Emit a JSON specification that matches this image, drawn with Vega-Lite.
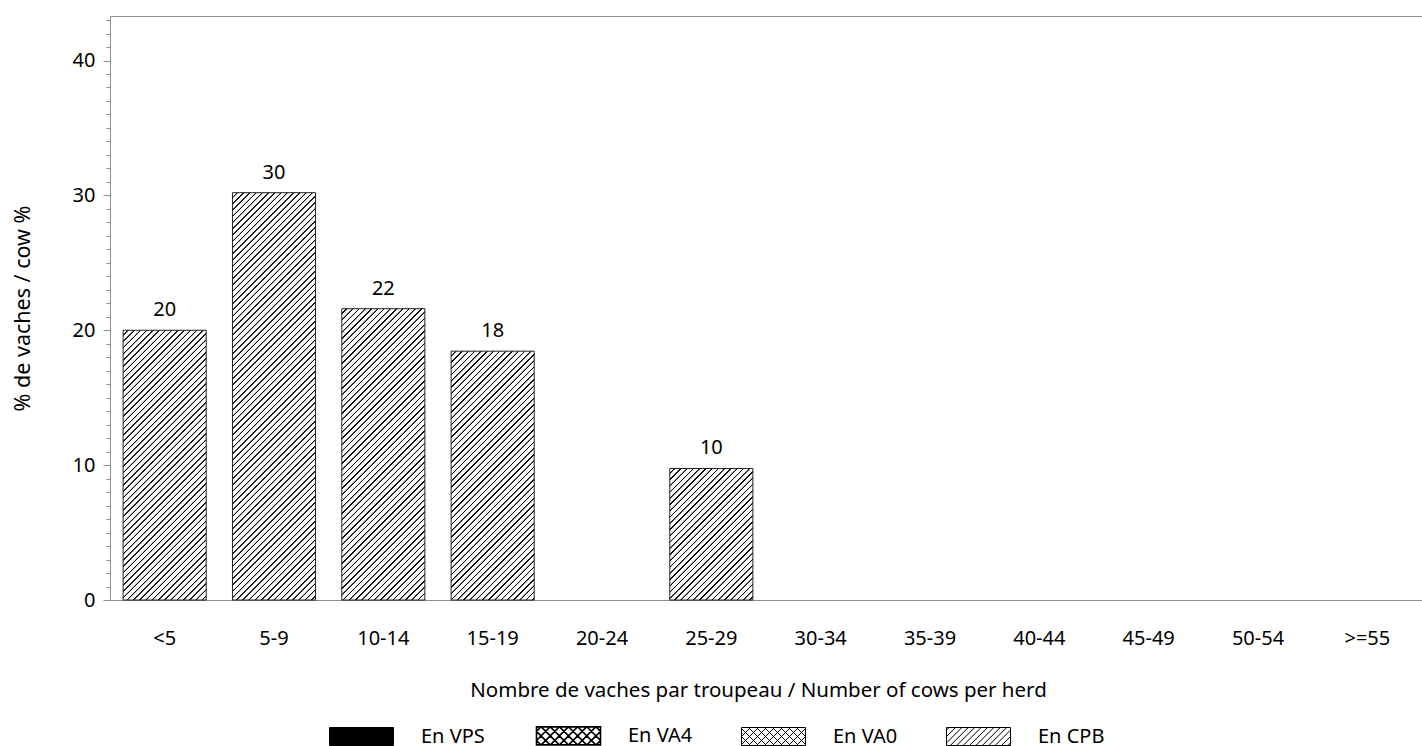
{
  "$schema": "https://vega.github.io/schema/vega-lite/v6.json",
  "description": "Pourcentage de vaches par taille de troupeau",
  "width": 1312,
  "height": 584,
  "autosize": {"type": "none"},
  "padding": {"left": 110, "top": 16, "right": 0, "bottom": 146},
  "background": "white",
  "params": [
    {
      "name": "hatch",
      "value": [
        {"offset":0.008,"color":"#fff"},{"offset":0.009,"color":"#000"},{"offset":0.011,"color":"#000"},{"offset":0.012,"color":"#fff"},
        {"offset":0.0205,"color":"#fff"},{"offset":0.0215,"color":"#000"},{"offset":0.0235,"color":"#000"},{"offset":0.0245,"color":"#fff"},
        {"offset":0.033,"color":"#fff"},{"offset":0.034,"color":"#000"},{"offset":0.036,"color":"#000"},{"offset":0.037,"color":"#fff"},
        {"offset":0.0455,"color":"#fff"},{"offset":0.0465,"color":"#000"},{"offset":0.0485,"color":"#000"},{"offset":0.0495,"color":"#fff"},
        {"offset":0.058,"color":"#fff"},{"offset":0.059,"color":"#000"},{"offset":0.061,"color":"#000"},{"offset":0.062,"color":"#fff"},
        {"offset":0.0705,"color":"#fff"},{"offset":0.0715,"color":"#000"},{"offset":0.0735,"color":"#000"},{"offset":0.0745,"color":"#fff"},
        {"offset":0.083,"color":"#fff"},{"offset":0.084,"color":"#000"},{"offset":0.086,"color":"#000"},{"offset":0.087,"color":"#fff"},
        {"offset":0.0955,"color":"#fff"},{"offset":0.0965,"color":"#000"},{"offset":0.0985,"color":"#000"},{"offset":0.0995,"color":"#fff"},
        {"offset":0.108,"color":"#fff"},{"offset":0.109,"color":"#000"},{"offset":0.111,"color":"#000"},{"offset":0.112,"color":"#fff"},
        {"offset":0.1205,"color":"#fff"},{"offset":0.1215,"color":"#000"},{"offset":0.1235,"color":"#000"},{"offset":0.1245,"color":"#fff"},
        {"offset":0.133,"color":"#fff"},{"offset":0.134,"color":"#000"},{"offset":0.136,"color":"#000"},{"offset":0.137,"color":"#fff"},
        {"offset":0.1455,"color":"#fff"},{"offset":0.1465,"color":"#000"},{"offset":0.1485,"color":"#000"},{"offset":0.1495,"color":"#fff"},
        {"offset":0.158,"color":"#fff"},{"offset":0.159,"color":"#000"},{"offset":0.161,"color":"#000"},{"offset":0.162,"color":"#fff"},
        {"offset":0.1705,"color":"#fff"},{"offset":0.1715,"color":"#000"},{"offset":0.1735,"color":"#000"},{"offset":0.1745,"color":"#fff"},
        {"offset":0.183,"color":"#fff"},{"offset":0.184,"color":"#000"},{"offset":0.186,"color":"#000"},{"offset":0.187,"color":"#fff"},
        {"offset":0.1955,"color":"#fff"},{"offset":0.1965,"color":"#000"},{"offset":0.1985,"color":"#000"},{"offset":0.1995,"color":"#fff"},
        {"offset":0.208,"color":"#fff"},{"offset":0.209,"color":"#000"},{"offset":0.211,"color":"#000"},{"offset":0.212,"color":"#fff"},
        {"offset":0.2205,"color":"#fff"},{"offset":0.2215,"color":"#000"},{"offset":0.2235,"color":"#000"},{"offset":0.2245,"color":"#fff"},
        {"offset":0.233,"color":"#fff"},{"offset":0.234,"color":"#000"},{"offset":0.236,"color":"#000"},{"offset":0.237,"color":"#fff"},
        {"offset":0.2455,"color":"#fff"},{"offset":0.2465,"color":"#000"},{"offset":0.2485,"color":"#000"},{"offset":0.2495,"color":"#fff"},
        {"offset":0.258,"color":"#fff"},{"offset":0.259,"color":"#000"},{"offset":0.261,"color":"#000"},{"offset":0.262,"color":"#fff"},
        {"offset":0.2705,"color":"#fff"},{"offset":0.2715,"color":"#000"},{"offset":0.2735,"color":"#000"},{"offset":0.2745,"color":"#fff"},
        {"offset":0.283,"color":"#fff"},{"offset":0.284,"color":"#000"},{"offset":0.286,"color":"#000"},{"offset":0.287,"color":"#fff"},
        {"offset":0.2955,"color":"#fff"},{"offset":0.2965,"color":"#000"},{"offset":0.2985,"color":"#000"},{"offset":0.2995,"color":"#fff"},
        {"offset":0.308,"color":"#fff"},{"offset":0.309,"color":"#000"},{"offset":0.311,"color":"#000"},{"offset":0.312,"color":"#fff"},
        {"offset":0.3205,"color":"#fff"},{"offset":0.3215,"color":"#000"},{"offset":0.3235,"color":"#000"},{"offset":0.3245,"color":"#fff"},
        {"offset":0.333,"color":"#fff"},{"offset":0.334,"color":"#000"},{"offset":0.336,"color":"#000"},{"offset":0.337,"color":"#fff"},
        {"offset":0.3455,"color":"#fff"},{"offset":0.3465,"color":"#000"},{"offset":0.3485,"color":"#000"},{"offset":0.3495,"color":"#fff"},
        {"offset":0.358,"color":"#fff"},{"offset":0.359,"color":"#000"},{"offset":0.361,"color":"#000"},{"offset":0.362,"color":"#fff"},
        {"offset":0.3705,"color":"#fff"},{"offset":0.3715,"color":"#000"},{"offset":0.3735,"color":"#000"},{"offset":0.3745,"color":"#fff"},
        {"offset":0.383,"color":"#fff"},{"offset":0.384,"color":"#000"},{"offset":0.386,"color":"#000"},{"offset":0.387,"color":"#fff"},
        {"offset":0.3955,"color":"#fff"},{"offset":0.3965,"color":"#000"},{"offset":0.3985,"color":"#000"},{"offset":0.3995,"color":"#fff"},
        {"offset":0.408,"color":"#fff"},{"offset":0.409,"color":"#000"},{"offset":0.411,"color":"#000"},{"offset":0.412,"color":"#fff"},
        {"offset":0.4205,"color":"#fff"},{"offset":0.4215,"color":"#000"},{"offset":0.4235,"color":"#000"},{"offset":0.4245,"color":"#fff"},
        {"offset":0.433,"color":"#fff"},{"offset":0.434,"color":"#000"},{"offset":0.436,"color":"#000"},{"offset":0.437,"color":"#fff"},
        {"offset":0.4455,"color":"#fff"},{"offset":0.4465,"color":"#000"},{"offset":0.4485,"color":"#000"},{"offset":0.4495,"color":"#fff"},
        {"offset":0.458,"color":"#fff"},{"offset":0.459,"color":"#000"},{"offset":0.461,"color":"#000"},{"offset":0.462,"color":"#fff"},
        {"offset":0.4705,"color":"#fff"},{"offset":0.4715,"color":"#000"},{"offset":0.4735,"color":"#000"},{"offset":0.4745,"color":"#fff"},
        {"offset":0.483,"color":"#fff"},{"offset":0.484,"color":"#000"},{"offset":0.486,"color":"#000"},{"offset":0.487,"color":"#fff"},
        {"offset":0.4955,"color":"#fff"},{"offset":0.4965,"color":"#000"},{"offset":0.4985,"color":"#000"},{"offset":0.4995,"color":"#fff"},
        {"offset":0.508,"color":"#fff"},{"offset":0.509,"color":"#000"},{"offset":0.511,"color":"#000"},{"offset":0.512,"color":"#fff"},
        {"offset":0.5205,"color":"#fff"},{"offset":0.5215,"color":"#000"},{"offset":0.5235,"color":"#000"},{"offset":0.5245,"color":"#fff"},
        {"offset":0.533,"color":"#fff"},{"offset":0.534,"color":"#000"},{"offset":0.536,"color":"#000"},{"offset":0.537,"color":"#fff"},
        {"offset":0.5455,"color":"#fff"},{"offset":0.5465,"color":"#000"},{"offset":0.5485,"color":"#000"},{"offset":0.5495,"color":"#fff"},
        {"offset":0.558,"color":"#fff"},{"offset":0.559,"color":"#000"},{"offset":0.561,"color":"#000"},{"offset":0.562,"color":"#fff"},
        {"offset":0.5705,"color":"#fff"},{"offset":0.5715,"color":"#000"},{"offset":0.5735,"color":"#000"},{"offset":0.5745,"color":"#fff"},
        {"offset":0.583,"color":"#fff"},{"offset":0.584,"color":"#000"},{"offset":0.586,"color":"#000"},{"offset":0.587,"color":"#fff"},
        {"offset":0.5955,"color":"#fff"},{"offset":0.5965,"color":"#000"},{"offset":0.5985,"color":"#000"},{"offset":0.5995,"color":"#fff"},
        {"offset":0.608,"color":"#fff"},{"offset":0.609,"color":"#000"},{"offset":0.611,"color":"#000"},{"offset":0.612,"color":"#fff"},
        {"offset":0.6205,"color":"#fff"},{"offset":0.6215,"color":"#000"},{"offset":0.6235,"color":"#000"},{"offset":0.6245,"color":"#fff"},
        {"offset":0.633,"color":"#fff"},{"offset":0.634,"color":"#000"},{"offset":0.636,"color":"#000"},{"offset":0.637,"color":"#fff"},
        {"offset":0.6455,"color":"#fff"},{"offset":0.6465,"color":"#000"},{"offset":0.6485,"color":"#000"},{"offset":0.6495,"color":"#fff"},
        {"offset":0.658,"color":"#fff"},{"offset":0.659,"color":"#000"},{"offset":0.661,"color":"#000"},{"offset":0.662,"color":"#fff"},
        {"offset":0.6705,"color":"#fff"},{"offset":0.6715,"color":"#000"},{"offset":0.6735,"color":"#000"},{"offset":0.6745,"color":"#fff"},
        {"offset":0.683,"color":"#fff"},{"offset":0.684,"color":"#000"},{"offset":0.686,"color":"#000"},{"offset":0.687,"color":"#fff"},
        {"offset":0.6955,"color":"#fff"},{"offset":0.6965,"color":"#000"},{"offset":0.6985,"color":"#000"},{"offset":0.6995,"color":"#fff"},
        {"offset":0.708,"color":"#fff"},{"offset":0.709,"color":"#000"},{"offset":0.711,"color":"#000"},{"offset":0.712,"color":"#fff"},
        {"offset":0.7205,"color":"#fff"},{"offset":0.7215,"color":"#000"},{"offset":0.7235,"color":"#000"},{"offset":0.7245,"color":"#fff"},
        {"offset":0.733,"color":"#fff"},{"offset":0.734,"color":"#000"},{"offset":0.736,"color":"#000"},{"offset":0.737,"color":"#fff"},
        {"offset":0.7455,"color":"#fff"},{"offset":0.7465,"color":"#000"},{"offset":0.7485,"color":"#000"},{"offset":0.7495,"color":"#fff"},
        {"offset":0.758,"color":"#fff"},{"offset":0.759,"color":"#000"},{"offset":0.761,"color":"#000"},{"offset":0.762,"color":"#fff"},
        {"offset":0.7705,"color":"#fff"},{"offset":0.7715,"color":"#000"},{"offset":0.7735,"color":"#000"},{"offset":0.7745,"color":"#fff"},
        {"offset":0.783,"color":"#fff"},{"offset":0.784,"color":"#000"},{"offset":0.786,"color":"#000"},{"offset":0.787,"color":"#fff"},
        {"offset":0.7955,"color":"#fff"},{"offset":0.7965,"color":"#000"},{"offset":0.7985,"color":"#000"},{"offset":0.7995,"color":"#fff"},
        {"offset":0.808,"color":"#fff"},{"offset":0.809,"color":"#000"},{"offset":0.811,"color":"#000"},{"offset":0.812,"color":"#fff"},
        {"offset":0.8205,"color":"#fff"},{"offset":0.8215,"color":"#000"},{"offset":0.8235,"color":"#000"},{"offset":0.8245,"color":"#fff"},
        {"offset":0.833,"color":"#fff"},{"offset":0.834,"color":"#000"},{"offset":0.836,"color":"#000"},{"offset":0.837,"color":"#fff"},
        {"offset":0.8455,"color":"#fff"},{"offset":0.8465,"color":"#000"},{"offset":0.8485,"color":"#000"},{"offset":0.8495,"color":"#fff"},
        {"offset":0.858,"color":"#fff"},{"offset":0.859,"color":"#000"},{"offset":0.861,"color":"#000"},{"offset":0.862,"color":"#fff"},
        {"offset":0.8705,"color":"#fff"},{"offset":0.8715,"color":"#000"},{"offset":0.8735,"color":"#000"},{"offset":0.8745,"color":"#fff"},
        {"offset":0.883,"color":"#fff"},{"offset":0.884,"color":"#000"},{"offset":0.886,"color":"#000"},{"offset":0.887,"color":"#fff"},
        {"offset":0.8955,"color":"#fff"},{"offset":0.8965,"color":"#000"},{"offset":0.8985,"color":"#000"},{"offset":0.8995,"color":"#fff"},
        {"offset":0.908,"color":"#fff"},{"offset":0.909,"color":"#000"},{"offset":0.911,"color":"#000"},{"offset":0.912,"color":"#fff"},
        {"offset":0.9205,"color":"#fff"},{"offset":0.9215,"color":"#000"},{"offset":0.9235,"color":"#000"},{"offset":0.9245,"color":"#fff"},
        {"offset":0.933,"color":"#fff"},{"offset":0.934,"color":"#000"},{"offset":0.936,"color":"#000"},{"offset":0.937,"color":"#fff"},
        {"offset":0.9455,"color":"#fff"},{"offset":0.9465,"color":"#000"},{"offset":0.9485,"color":"#000"},{"offset":0.9495,"color":"#fff"},
        {"offset":0.958,"color":"#fff"},{"offset":0.959,"color":"#000"},{"offset":0.961,"color":"#000"},{"offset":0.962,"color":"#fff"},
        {"offset":0.9705,"color":"#fff"},{"offset":0.9715,"color":"#000"},{"offset":0.9735,"color":"#000"},{"offset":0.9745,"color":"#fff"},
        {"offset":0.983,"color":"#fff"},{"offset":0.984,"color":"#000"},{"offset":0.986,"color":"#000"},{"offset":0.987,"color":"#fff"},
        {"offset":0.9955,"color":"#fff"},{"offset":0.9965,"color":"#000"},{"offset":0.9985,"color":"#000"},{"offset":0.9995,"color":"#fff"}
      ]
    }
  ],
  "data": {
    "values": [
      {"group": "<5", "series": "En CPB", "pct": 20.0},
      {"group": "5-9", "series": "En CPB", "pct": 30.2},
      {"group": "10-14", "series": "En CPB", "pct": 21.6},
      {"group": "15-19", "series": "En CPB", "pct": 18.45},
      {"group": "20-24", "series": "En CPB", "pct": 0},
      {"group": "25-29", "series": "En CPB", "pct": 9.75},
      {"group": "30-34", "series": "En CPB", "pct": 0},
      {"group": "35-39", "series": "En CPB", "pct": 0},
      {"group": "40-44", "series": "En CPB", "pct": 0},
      {"group": "45-49", "series": "En CPB", "pct": 0},
      {"group": "50-54", "series": "En CPB", "pct": 0},
      {"group": ">=55", "series": "En CPB", "pct": 0}
    ]
  },
  "transform": [{"filter": "datum.pct > 0"}],
  "layer": [
    {
      "mark": {
        "type": "bar",
        "stroke": "#222",
        "strokeWidth": 1,
        "fill": {"expr": "{gradient: 'linear', x1: 0, y1: 0, x2: 500 * bandwidth('x') / (pow(bandwidth('x'), 2) + pow(scale('y', 0) - scale('y', datum.pct), 2)), y2: 500 * (scale('y', 0) - scale('y', datum.pct)) / (pow(bandwidth('x'), 2) + pow(scale('y', 0) - scale('y', datum.pct), 2)), stops: hatch}"}
      },
      "encoding": {
        "x": {
          "field": "group",
          "type": "nominal",
          "sort": null,
          "scale": {
            "domain": ["<5", "5-9", "10-14", "15-19", "20-24", "25-29", "30-34", "35-39", "40-44", "45-49", "50-54", ">=55"],
            "paddingInner": 0.24,
            "paddingOuter": 0.12
          },
          "axis": {
            "orient": "bottom",
            "labelAngle": 0,
            "ticks": false,
            "tickSize": 0,
            "labelPadding": 28,
            "title": "Nombre de vaches par troupeau / Number of cows per herd",
            "titleFontSize": 20.5,
            "titleX": 648,
            "titleAlign": "center",
            "titlePadding": 32
          }
        },
        "y": {
          "field": "pct",
          "type": "quantitative",
          "scale": {"domain": [0, 43.3], "nice": false, "zero": true},
          "axis": {
            "orient": "left",
            "values": [0, 10, 20, 30, 40],
            "tickSize": 7,
            "labelPadding": 8,
            "title": "% de vaches / cow %",
            "titleFontSize": 21.5,
            "titlePadding": 38
          }
        }
      }
    },
    {
      "mark": {"type": "text", "fontSize": 20, "baseline": "alphabetic", "dy": -14, "color": "black"},
      "encoding": {
        "x": {
          "field": "group",
          "type": "nominal",
          "sort": null,
          "scale": {
            "domain": ["<5", "5-9", "10-14", "15-19", "20-24", "25-29", "30-34", "35-39", "40-44", "45-49", "50-54", ">=55"],
            "paddingInner": 0.24,
            "paddingOuter": 0.12
          },
          "axis": {"orient": "top", "labels": false, "ticks": false, "title": null}
        },
        "y": {
          "field": "pct",
          "type": "quantitative",
          "axis": {
            "orient": "left",
            "values": [0, 1, 2, 3, 4, 5, 6, 7, 8, 9, 10, 11, 12, 13, 14, 15, 16, 17, 18, 19, 20, 21, 22, 23, 24, 25, 26, 27, 28, 29, 30, 31, 32, 33, 34, 35, 36, 37, 38, 39, 40, 41, 42, 43],
            "labels": false,
            "domain": false,
            "tickSize": 4,
            "title": null
          }
        },
        "text": {"field": "pct", "type": "quantitative", "format": ".0f"}
      }
    },
    {
      "transform": [{"filter": "datum.pct > 100"}],
      "mark": {"type": "square", "filled": true, "opacity": 1},
      "encoding": {
        "color": {
          "field": "series",
          "type": "nominal",
          "scale": {
            "domain": ["En VPS", "En VA4", "En VA0", "En CPB"],
            "range": ["black", "white", "white", "white"]
          },
          "legend": {
            "orient": "none",
            "legendX": 241.5,
            "legendY": 709.5,
            "direction": "horizontal",
            "title": null,
            "padding": 0,
            "symbolSize": 4096,
            "symbolStrokeWidth": 1,
            "symbolStrokeColor": "black",
            "symbolOpacity": 1,
            "labelFontSize": 20,
            "labelColor": "black",
            "labelOffset": 49.5,
            "columnPadding": 47,
            "encode": {
              "symbols": {
                "update": {
                  "shape": {"signal": "datum.value === 'En VPS' ? 'M-1,-0.281H1V0.281H-1Z' : datum.value === 'En VA4' ? 'M-1,-0.281H1V0.281H-1ZM-1,-0.143L-0.862,-0.281M-1,0.143L-0.576,-0.281M-0.852,0.281L-0.29,-0.281M-0.567,0.281L-0.005,-0.281M-0.281,0.281L0.281,-0.281M0.005,0.281L0.567,-0.281M0.29,0.281L0.852,-0.281M0.576,0.281L1,-0.143M0.862,0.281L1,0.143M-1,0.143L-0.862,0.281M-1,-0.143L-0.576,0.281M-0.852,-0.281L-0.29,0.281M-0.567,-0.281L-0.005,0.281M-0.281,-0.281L0.281,0.281M0.005,-0.281L0.567,0.281M0.29,-0.281L0.852,0.281M0.576,-0.281L1,0.143M0.862,-0.281L1,-0.143' : datum.value === 'En VA0' ? 'M-1,-0.281H1V0.281H-1ZM-1,-0.25L-0.969,-0.281M-1,0L-0.719,-0.281M-1,0.25L-0.469,-0.281M-0.781,0.281L-0.219,-0.281M-0.531,0.281L0.031,-0.281M-0.281,0.281L0.281,-0.281M-0.031,0.281L0.531,-0.281M0.219,0.281L0.781,-0.281M0.469,0.281L1,-0.25M0.719,0.281L1,0M0.969,0.281L1,0.25M-1,0.25L-0.969,0.281M-1,0L-0.719,0.281M-1,-0.25L-0.469,0.281M-0.781,-0.281L-0.219,0.281M-0.531,-0.281L0.031,0.281M-0.281,-0.281L0.281,0.281M-0.031,-0.281L0.531,0.281M0.219,-0.281L0.781,0.281M0.469,-0.281L1,0.25M0.719,-0.281L1,0M0.969,-0.281L1,-0.25' : 'M-1,-0.281H1V0.281H-1ZM-1,-0.2L-0.919,-0.281M-1,0L-0.719,-0.281M-1,0.2L-0.519,-0.281M-0.881,0.281L-0.319,-0.281M-0.681,0.281L-0.119,-0.281M-0.481,0.281L0.081,-0.281M-0.281,0.281L0.281,-0.281M-0.081,0.281L0.481,-0.281M0.119,0.281L0.681,-0.281M0.319,0.281L0.881,-0.281M0.519,0.281L1,-0.2M0.719,0.281L1,0M0.919,0.281L1,0.2'"},
                  "stroke": {"value": "black"},
                  "strokeWidth": {"signal": "datum.value === 'En VA4' ? 1.6 : 1"},
                  "opacity": {"value": 1}
                }
              }
            }
          }
        }
      }
    }
  ],
  "resolve": {"axis": {"x": "independent", "y": "independent"}},
  "config": {
    "font": "Noto Sans",
    "view": {"stroke": null},
    "axis": {
      "grid": false,
      "labelFontSize": 20,
      "labelColor": "black",
      "titleFontSize": 20,
      "titleFontWeight": "normal",
      "titleColor": "black",
      "domainColor": "#8c8c8c",
      "tickColor": "#8c8c8c"
    },
    "legend": {"labelFont": "Noto Sans"}
  }
}
